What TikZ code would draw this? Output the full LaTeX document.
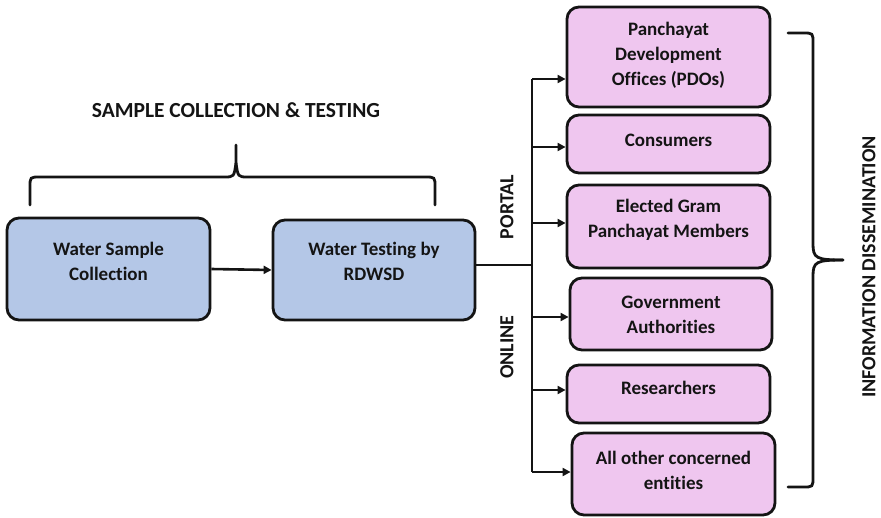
\documentclass[tikz,border=0pt]{standalone}
\usepackage{fontspec}
\setmainfont{Carlito}[Ligatures=NoCommon]
\usetikzlibrary{arrows.meta}
\definecolor{boxblue}{RGB}{180,199,231}
\definecolor{boxpink}{RGB}{239,198,239}
\definecolor{ink}{RGB}{20,20,20}
\tikzset{
  box/.style={draw=ink, line width=2.8pt, rounded corners=12pt, inner sep=0pt},
  bluebox/.style={box, fill=boxblue},
  pinkbox/.style={box, fill=boxpink},
  txt/.style={font=\bfseries\fontsize{19}{25}\selectfont, align=center, text=ink, inner sep=0pt},
  bigtxt/.style={font=\bfseries\fontsize{20}{24}\selectfont, text=ink, inner sep=0pt},
  conn/.style={draw=ink, line width=2.6pt},
  arr/.style={conn, -{Triangle[length=8pt,width=8pt]}},
  brace/.style={draw=ink, line width=2.8pt, line cap=round}
}
\begin{document}
\begin{tikzpicture}[x=1pt,y=-1pt]
\useasboundingbox (0,0) rectangle (881,517);
% left boxes
\node[bluebox, minimum width=203pt, minimum height=102pt] (b1) at (108.5,269) {};
\node[txt] (t1) at (108.5,261) {Water Sample\\Collection};
\node[bluebox, minimum width=202pt, minimum height=100pt] (b2) at (374,270) {};
\node[txt] (t2) at (374,261) {Water Testing by\\RDWSD};
% right boxes
\node[pinkbox, minimum width=203pt, minimum height=100pt] (r1) at (668.5,57) {};
\node[txt] (s1) at (668.5,55) {Panchayat\\Development\\Offices (PDOs)};
\node[pinkbox, minimum width=203pt, minimum height=58pt] (r2) at (668.5,144) {};
\node[txt] (s2) at (668.5,140) {Consumers};
\node[pinkbox, minimum width=203pt, minimum height=83pt] (r3) at (668.5,226.5) {};
\node[txt] (s3) at (668.5,220) {Elected Gram\\Panchayat Members};
\node[pinkbox, minimum width=202pt, minimum height=72pt] (r4) at (671,314) {};
\node[txt] (s4) at (671,315) {Government\\Authorities};
\node[pinkbox, minimum width=203pt, minimum height=58pt] (r5) at (668.5,394) {};
\node[txt] (s5) at (668.5,388) {Researchers};
\node[pinkbox, minimum width=203pt, minimum height=82pt] (r6) at (673.5,474) {};
\node[txt] (s6) at (673.5,470) {All other concerned\\entities};
% labels
\node[bigtxt, font=\bfseries\fontsize{21.5}{24}\selectfont] (title) at (236,110) {SAMPLE COLLECTION \& TESTING};
\node[bigtxt, rotate=90] (portal) at (507,207) {PORTAL};
\node[bigtxt, rotate=90] (online) at (507,347) {ONLINE};
\node[bigtxt, rotate=90] (info) at (869,267) {INFORMATION DISSEMINATION};
% connectors
\coordinate (j) at (532,265);
\coordinate (j1) at (532,79);
\coordinate (j2) at (532,147);
\coordinate (j3) at (532,223);
\coordinate (j4) at (532,317);
\coordinate (j5) at (532,390);
\coordinate (j6) at (532,472);
\draw[arr] (b1.east) -- (b2.west);
\draw[conn] (b2.east |- j) -- (j);
\draw[conn] (j1) -- (j6);
\draw[arr] (j1) -- (r1.west |- j1);
\draw[arr] (j2) -- (r2.west |- j2);
\draw[arr] (j3) -- (r3.west |- j3);
\draw[arr] (j4) -- (r4.west |- j4);
\draw[arr] (j5) -- (r5.west |- j5);
\draw[arr] (j6) -- (r6.west |- j6);
% top brace
\draw[brace] (30,205) -- (30,187) .. controls (30,177) .. (40,177) -- (224,177)
  .. controls (234,177) .. (236,163) -- (236,145);
\draw[brace] (236,163) .. controls (238,177) .. (248,177) -- (425,177)
  .. controls (435,177) .. (435,187) -- (435,205);
% right brace
\draw[brace] (788,33) -- (803,33) .. controls (813,33) .. (813,43) -- (813,244)
  .. controls (813,258) and (816,260) .. (843,260);
\draw[brace] (843,260) .. controls (816,260) and (813,262) .. (813,276) -- (813,477)
  .. controls (813,487) .. (803,487) -- (788,487);
\end{tikzpicture}
\end{document}
